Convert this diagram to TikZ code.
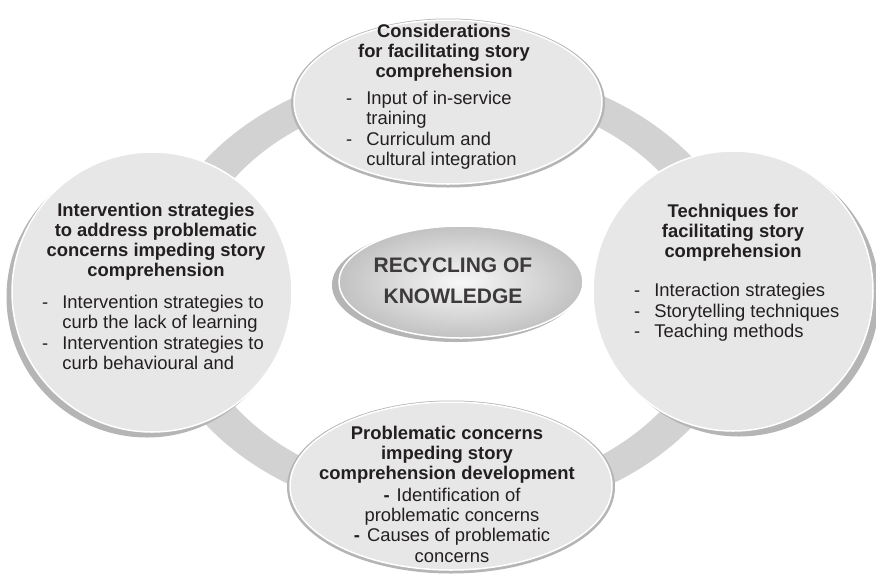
\documentclass[tikz,border=0pt]{standalone}
\usepackage{fontspec}
\setmainfont{Liberation Sans}
\usetikzlibrary{shapes.geometric,positioning}

\definecolor{bandgray}{HTML}{D2D2D2}
\definecolor{fillgray}{HTML}{E7E7E7}
\definecolor{rimgray}{HTML}{B5B5B5}
\definecolor{inkgray}{HTML}{231F20}

% dash list with hanging second lines
\newcommand{\dashlist}[1]{\begin{tabular}{@{}l@{\hspace{14pt}}l@{}}#1\end{tabular}}

\begin{document}
\begin{tikzpicture}[
    x=1pt, y=-1pt,
    bubble/.style={fill=fillgray, draw=white, line width=1.5pt, inner sep=0pt},
    rim/.style={fill=rimgray, draw=none, inner sep=0pt},
    head/.style={align=center, inner sep=0pt, text=inkgray, font=\fontsize{18.4}{20}\selectfont\bfseries},
    items/.style={align=left, inner sep=0pt, text=inkgray, font=\fontsize{18.4}{20.3}\selectfont}
]
\useasboundingbox (0,0) rectangle (876,574);

% ring behind the bubbles
\fill[bandgray, even odd rule] (450,292) ellipse [x radius=300, y radius=228]
    (450,292) ellipse [x radius=262, y radius=200];

% rims (shadows)
\node[rim, ellipse, minimum width=314, minimum height=169] (topRim) at (448,103) {};
\node[rim, circle, minimum size=281] (leftRim) at (147,297) {};
\node[rim, circle, minimum size=281] (rightRim) at (739,296) {};
\node[rim, ellipse, minimum width=328, minimum height=173] (botRim) at (451,487) {};
\node[rim, ellipse, minimum width=248, minimum height=114] (coreRim) at (456,285) {};

% bubbles
\node[bubble, ellipse, minimum width=308, minimum height=164] (topBub) at (448,102) {};
\node[bubble, circle, minimum size=280] (leftBub) at (152,292) {};
\node[bubble, circle, minimum size=280] (rightBub) at (733,291) {};
\node[bubble, ellipse, minimum width=322, minimum height=168] (botBub) at (451,486) {};
\node[ellipse, draw=white, line width=1.5pt, inner sep=0pt, minimum width=244, minimum height=112,
      shading=radial, inner color=gray!6, outer color=gray!48] (coreBub) at (461,282) {};

% texts
\node[head] (topHead) at (444,53) {Considerations\\for facilitating story\\comprehension};
\node[items, anchor=west] (topList) at (346,131) {\dashlist{-& Input of in-service\\ & training\\ -& Curriculum and\\ & cultural integration}};

\node[head] (leftHead) at (156,242) {Intervention strategies\\to address problematic\\concerns impeding story\\comprehension};
\node[items, anchor=west] (leftList) at (42,335) {\dashlist{-& Intervention strategies to\\ & curb the lack of learning\\ -& Intervention strategies to\\ & curb behavioural and}};

\node[head] (rightHead) at (733,233) {Techniques for\\facilitating story\\comprehension};
\node[items, anchor=west] (rightList) at (634,313) {\dashlist{-& Interaction strategies\\ -& Storytelling techniques\\ -& Teaching methods}};

\node[head] (botHead) at (447,455) {Problematic concerns\\impeding story\\comprehension development};
\node[items, align=center] (botList) at (452,525) {{\bfseries -}\hspace{7pt}Identification of\\problematic concerns\\{\bfseries -}\hspace{7pt}Causes of problematic\\concerns};

\node[align=center, inner sep=0pt, text=inkgray!88, font=\fontsize{21}{31}\selectfont\bfseries] (coreText) at (453,281) {RECYCLING OF\\KNOWLEDGE};

\end{tikzpicture}
\end{document}
